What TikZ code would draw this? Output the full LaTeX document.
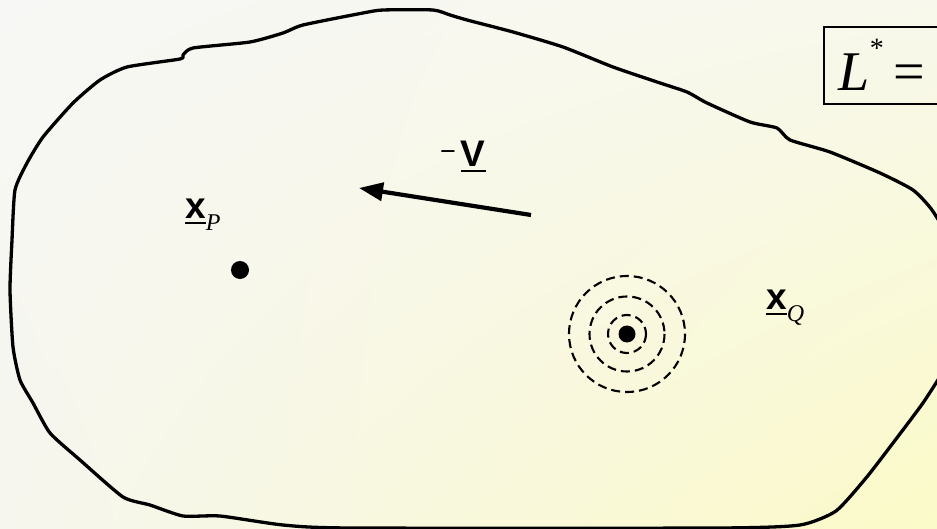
\documentclass[tikz,border=0pt]{standalone}
\usepackage{fontspec}
\setmainfont{Liberation Serif}
\setsansfont{Liberation Sans}
\usetikzlibrary{arrows.meta,shadings}
\definecolor{bgUL}{RGB}{247,247,245}
\definecolor{bgUR}{RGB}{248,248,236}
\definecolor{bgLL}{RGB}{246,246,238}
\definecolor{bgLR}{RGB}{251,250,200}
\newcommand\myul[1]{\setbox0\hbox{#1}\rlap{\rule[-5pt]{\wd0}{2pt}}\box0}
\newcommand\vecsym[1]{{\sffamily\bfseries\fontsize{37}{37}\selectfont\myul{#1}}}
\newcommand\subsym[1]{\raisebox{-12pt}{\rmfamily\itshape\fontsize{24}{24}\selectfont #1}}
\tikzset{
  outline/.style={line width=3.3pt, line join=round},
  dotnode/.style={circle, fill=black, inner sep=0pt, minimum size=18pt},
  dashcirc/.style={line width=2.1pt, dash pattern=on 9pt off 5pt},
  labelnode/.style={inner sep=0pt, anchor=base west},
  vecarrow/.style={line width=4.2pt, -{Triangle[length=24pt,width=18pt]}},
}
\begin{document}
\begin{tikzpicture}[x=1pt,y=-1pt]
\useasboundingbox (0,0) rectangle (937,529);
\clip (0,0) rectangle (937,529);
\shade[upper left=bgUL, upper right=bgUR, lower left=bgLL, lower right=bgLR] (0,0) rectangle (937,529);
% body outline
\draw[outline] plot[smooth cycle, tension=0.35] coordinates {
 (12,240) (15,190) (27,163) (43,137) (73,103) (100,80) (127,67) (180,59) (183,55) (193,48)
 (250,42) (283,33) (303,25) (363,13) (383,10) (433,10) (450,15) (467,20) (513,32) (563,47)
 (613,67) (657,82) (687,92) (707,103) (750,122) (777,128) (790,140) (830,152) (880,173)
 (913,190) (932,210) (952,245) (964,300) (955,350) (925,400) (893,443) (866,478) (836,511)
 (800,525) (720,528) (350,528) (283,525) (220,516) (183,516) (150,505) (123,497) (80,460)
 (50,433) (33,403) (20,380) (13,347) (10,290)};
% points
\node[dotnode] (P) at (240,270) {};
\node[dotnode, minimum size=17pt] (Q) at (627,334) {};
\draw[dashcirc] (Q) circle[radius=19];
\draw[dashcirc] (Q) circle[radius=37.5];
\draw[dashcirc] (Q) circle[radius=58];
% labels
\node[labelnode] (xP) at (185,219) {\vecsym{x}\subsym{P}};
\node[labelnode] (xQ) at (766,310) {\vecsym{x}\subsym{Q}};
\node[labelnode] (vlab) at (440,167) {\raisebox{6pt}{\sffamily\fontsize{27}{27}\selectfont −}\kern5pt\vecsym{V}};
% velocity arrow
\coordinate (vstart) at (531,215);
\coordinate (vend) at (359,188);
\draw[vecarrow] (vstart) -- (vend);
% box
\node[draw, line width=1.6pt, anchor=north west, inner xsep=15pt, inner ysep=0pt,
      minimum height=77pt, text width=170pt, text depth=0pt, align=left] (Lbox) at (823,26)
  {\rmfamily\fontsize{56}{56}\selectfont\textit{L}\raisebox{33pt}{\fontsize{28}{28}\selectfont *}\hspace{10pt}=};
\end{tikzpicture}
\end{document}
